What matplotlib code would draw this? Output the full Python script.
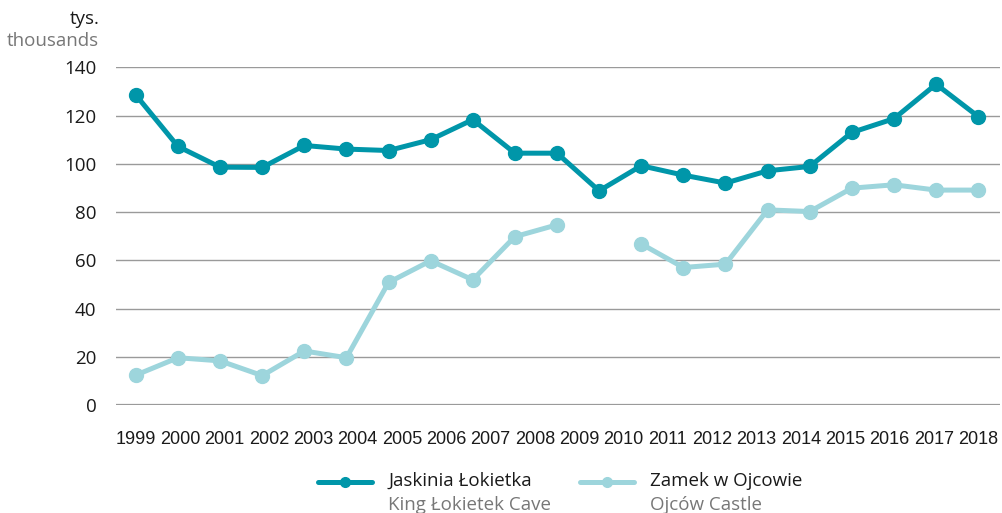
import numpy as np
import matplotlib
matplotlib.use("Agg")
import matplotlib.pyplot as plt
from matplotlib.lines import Line2D

plt.rcParams['font.family'] = ['Open Sans', 'DejaVu Sans']

# visitors, thousands
years = [str(y) for y in range(1999, 2019)]
cave = [128.5, 107.2, 98.6, 98.5, 107.6, 106.1, 105.5, 110.0, 118.3, 104.4, 104.4,
        88.8, 99.2, 95.3, 92.0, 97.1, 98.9, 113.0, 118.7, 133.0, 119.6]
castle = [12.4, 19.6, 18.3, 12.2, 22.4, 19.6, 50.8, 59.8, 51.9, 69.8, 74.7,
          np.nan, 66.8, 57.0, 58.4, 80.9, 80.2, 89.9, 91.3, 89.1, 89.1]
yticks = [0, 20, 40, 60, 80, 100, 120, 140]

dark = '#0096a9'
light = '#9dd5dc'

fig = plt.figure(figsize=(10.03, 5.13), dpi=100)
ax = fig.add_axes([0.1157, 0.2105, 0.8814, 0.6583])

x = np.arange(len(cave))
ax.plot(x, castle, color=light, lw=3.6, marker='o', ms=10, clip_on=False, zorder=3)
ax.plot(x, cave, color=dark, lw=3.6, marker='o', ms=10, clip_on=False, zorder=4)

ax.set_ylim(0, 140)
ax.set_xlim(-0.47, 20.52)
ax.set_yticks(yticks)
for v in yticks:
    ax.axhline(v, color='#9a9a9a', lw=1.0 if v else 1.6, zorder=1)

ax.set_xticks(np.linspace(0, len(cave) - 1, len(years)))
ax.set_xticklabels(years, fontsize=13, family=['Liberation Sans Narrow', 'Liberation Sans'])
ax.tick_params(axis='both', length=0, colors='#1a1a1a')
ax.tick_params(axis='y', labelsize=13.5, pad=14)
ax.tick_params(axis='x', pad=19)
for s in ax.spines.values():
    s.set_visible(False)

fig.text(0.099, 0.963, 'tys.', ha='right', va='center', fontsize=13.5, color='#1a1a1a')
fig.text(0.099, 0.921, 'thousands', ha='right', va='center', fontsize=13.5, color='#777777')

# legend
entries = [(0.317, dark, 'Jaskinia Łokietka', 'King Łokietek Cave'),
           (0.578, light, 'Zamek w Ojcowie', 'Ojców Castle')]
for x0, col, pl, en in entries:
    fig.add_artist(Line2D([x0, x0 + 0.054], [0.060, 0.060], transform=fig.transFigure,
                          color=col, lw=3.6, solid_capstyle='round'))
    fig.add_artist(Line2D([x0 + 0.027], [0.060], transform=fig.transFigure,
                          color=col, marker='o', ms=7, lw=0))
    fig.text(x0 + 0.070, 0.062, pl, ha='left', va='center', fontsize=13.5, color='#1a1a1a')
    fig.text(x0 + 0.070, 0.016, en, ha='left', va='center', fontsize=13.5, color='#777777')

fig.savefig('out.png', dpi=100)
